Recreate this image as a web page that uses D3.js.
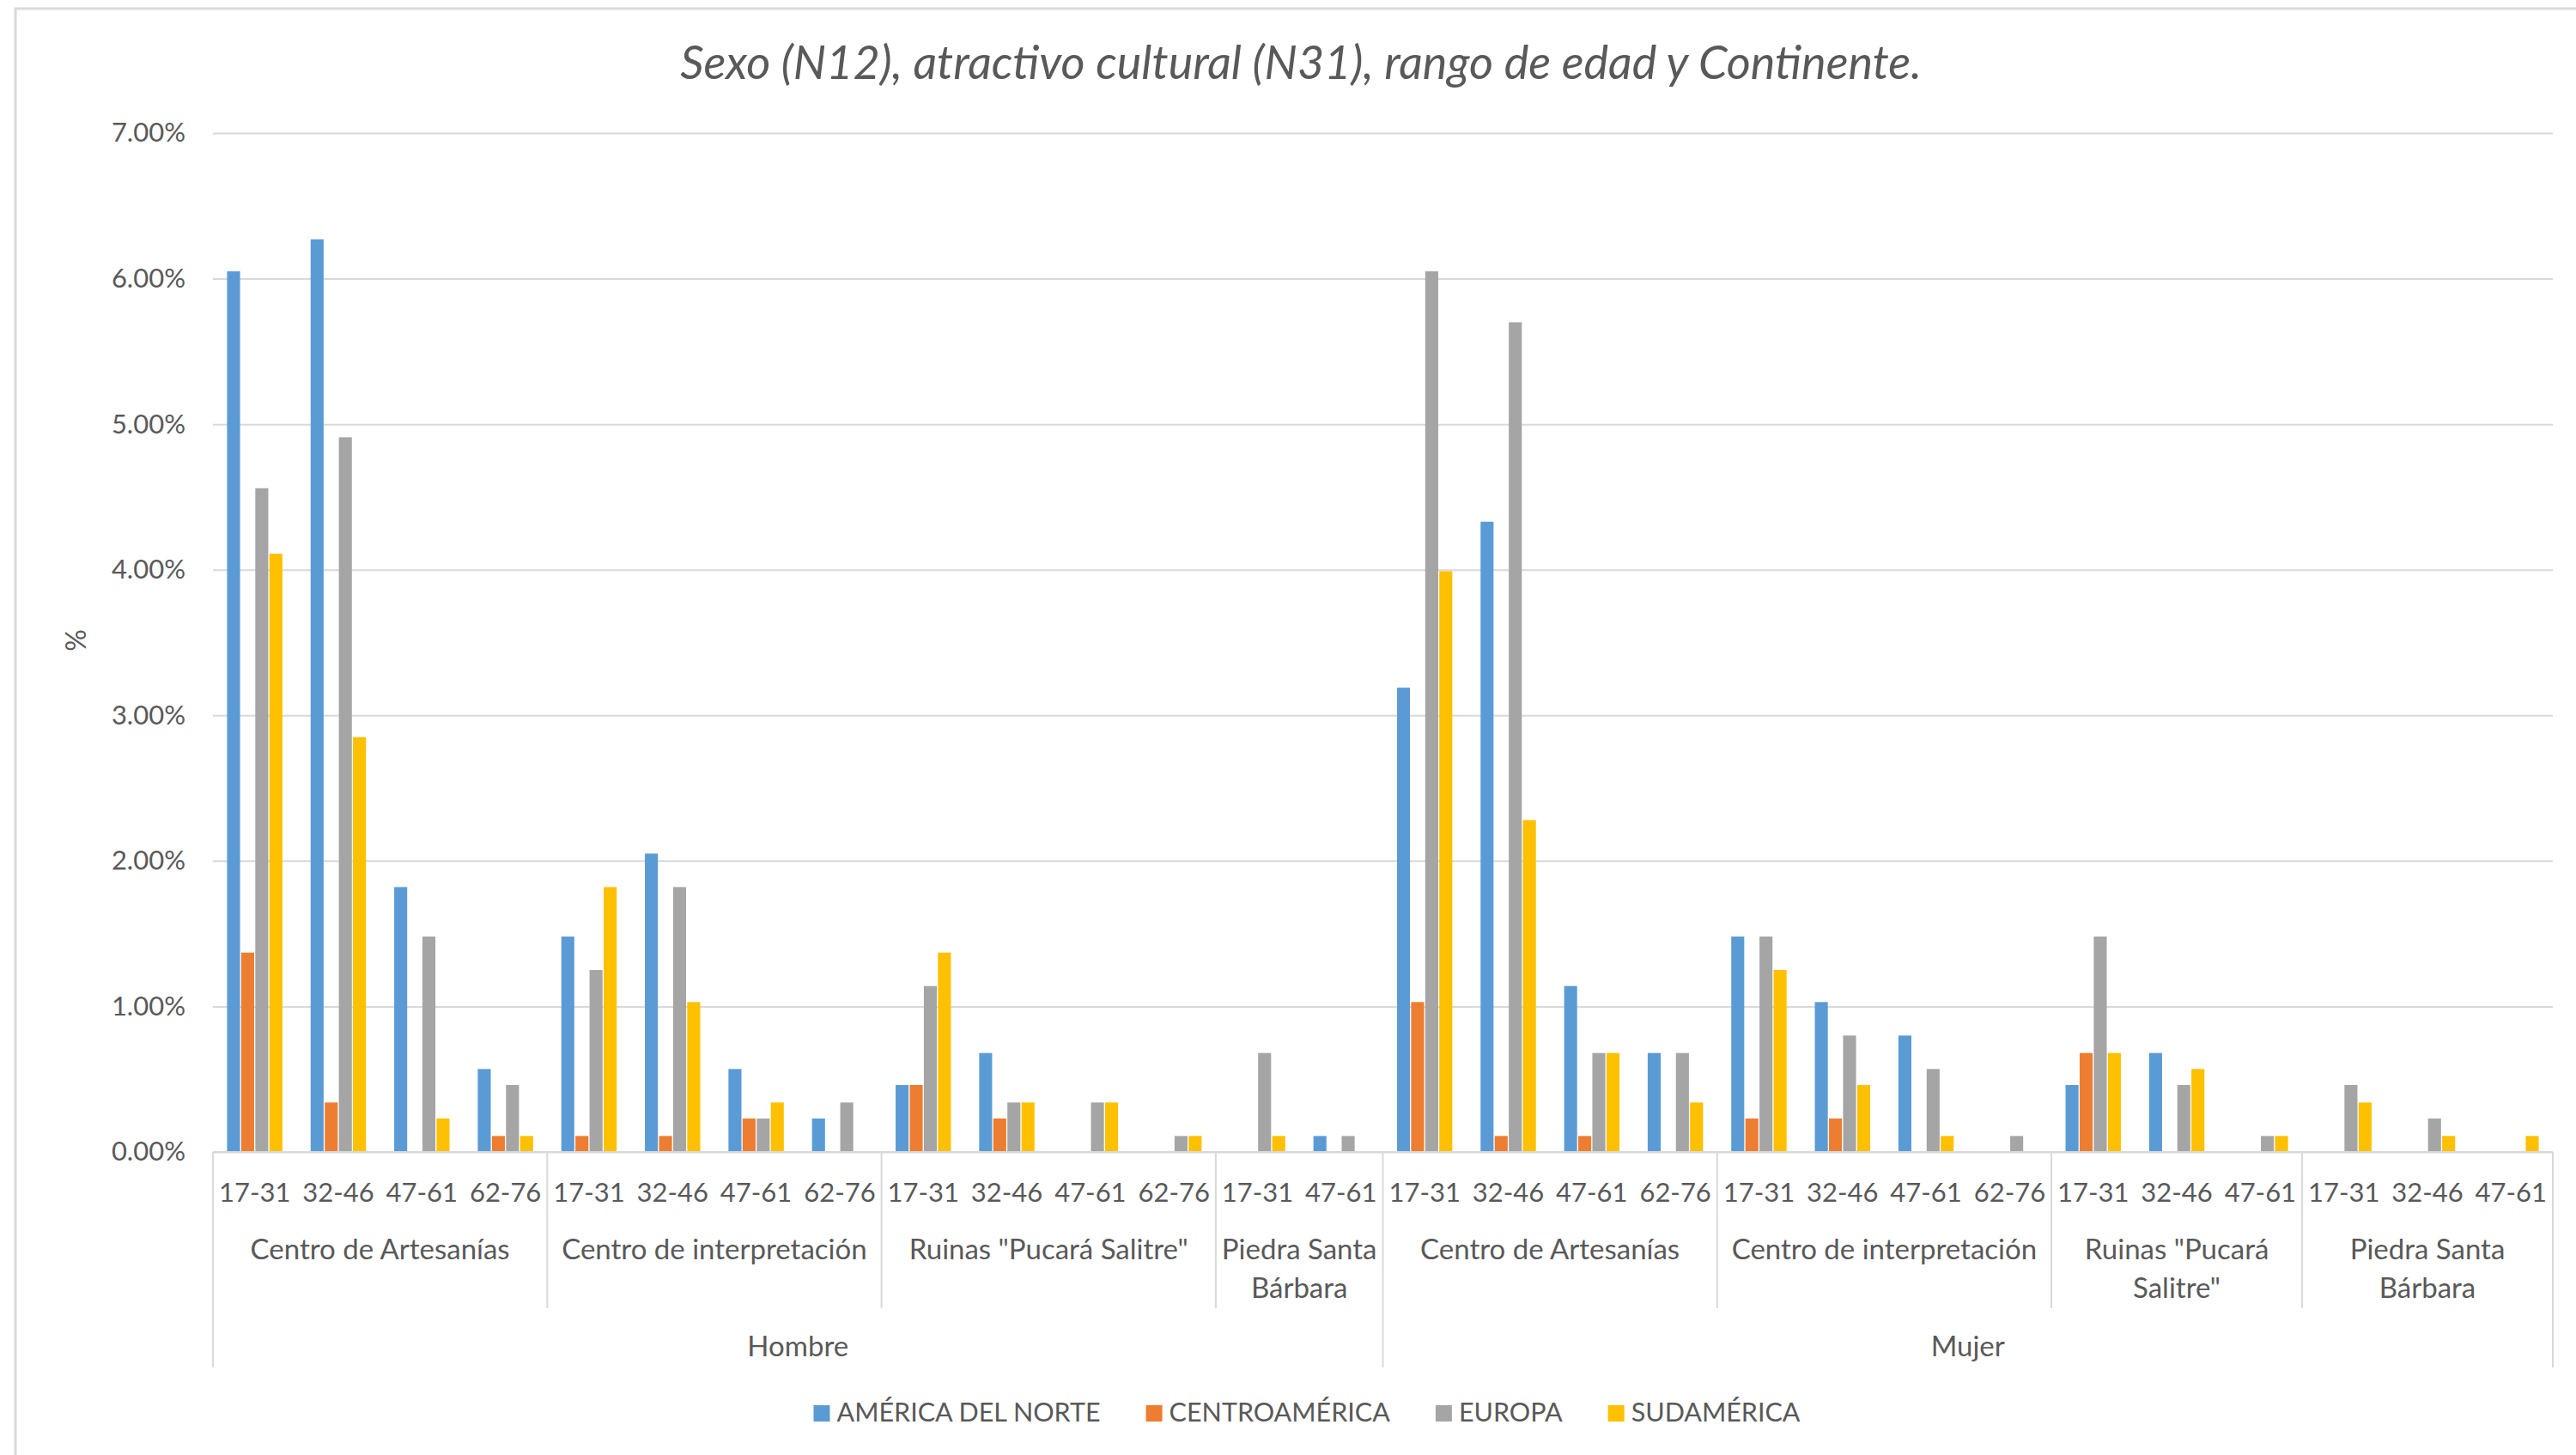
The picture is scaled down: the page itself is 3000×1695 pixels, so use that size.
<!DOCTYPE html>
<html>
<head>
<meta charset="utf-8">
<script src="https://cdn.jsdelivr.net/npm/d3@7.9.0/dist/d3.min.js"></script>
<style>
  body { margin: 0; background: #fff; }
  svg { display: block; font-family: Lato, "Open Sans", sans-serif; }
</style>
</head>
<body>
<div id="chart"></div>
<script>
const title = "Sexo (N12), atractivo cultural (N31), rango de edad y Continente.";
const yTitle = "%";
const continents = ["AMÉRICA DEL NORTE", "CENTROAMÉRICA", "EUROPA", "SUDAMÉRICA"];
const colors = ["#5b9bd5", "#ed7d31", "#a5a5a5", "#ffc000"];
const sexes = ["Hombre", "Mujer"];

// one entry per site box on the category axis, left to right
const sites = [
  { sex: "Hombre", label: ["Centro de Artesanías"], ages: ["17-31", "32-46", "47-61", "62-76"] },
  { sex: "Hombre", label: ["Centro de interpretación"], ages: ["17-31", "32-46", "47-61", "62-76"] },
  { sex: "Hombre", label: ['Ruinas "Pucará Salitre"'], ages: ["17-31", "32-46", "47-61", "62-76"] },
  { sex: "Hombre", label: ["Piedra Santa", "Bárbara"], ages: ["17-31", "47-61"] },
  { sex: "Mujer", label: ["Centro de Artesanías"], ages: ["17-31", "32-46", "47-61", "62-76"] },
  { sex: "Mujer", label: ["Centro de interpretación"], ages: ["17-31", "32-46", "47-61", "62-76"] },
  { sex: "Mujer", label: ['Ruinas "Pucará', 'Salitre"'], ages: ["17-31", "32-46", "47-61"] },
  { sex: "Mujer", label: ["Piedra Santa", "Bárbara"], ages: ["17-31", "32-46", "47-61"] },
];

// values in %, same order as the categories above
const americaNorte = [6.05, 6.27, 1.82, 0.57, 1.48, 2.05, 0.57, 0.23, 0.46, 0.68, 0, 0, 0, 0.11,
  3.19, 4.33, 1.14, 0.68, 1.48, 1.03, 0.80, 0, 0.46, 0.68, 0, 0, 0, 0];
const centroamerica = [1.37, 0.34, 0, 0.11, 0.11, 0.11, 0.23, 0, 0.46, 0.23, 0, 0, 0, 0,
  1.03, 0.11, 0.11, 0, 0.23, 0.23, 0, 0, 0.68, 0, 0, 0, 0, 0];
const europa = [4.56, 4.91, 1.48, 0.46, 1.25, 1.82, 0.23, 0.34, 1.14, 0.34, 0.34, 0.11, 0.68, 0.11,
  6.05, 5.70, 0.68, 0.68, 1.48, 0.80, 0.57, 0.11, 1.48, 0.46, 0.11, 0.46, 0.23, 0];
const sudamerica = [4.11, 2.85, 0.23, 0.11, 1.82, 1.03, 0.34, 0, 1.37, 0.34, 0.34, 0.11, 0.11, 0,
  3.99, 2.28, 0.68, 0.34, 1.25, 0.46, 0.11, 0, 0.68, 0.57, 0.11, 0.34, 0.11, 0.11];
const seriesValues = [americaNorte, centroamerica, europa, sudamerica];

const yTicks = [0, 1, 2, 3, 4, 5, 6, 7];

const width = 3000;
const height = 1695;
const plot = { left: 248, right: 2973, top: 155, bottom: 1342 };
const textColor = "#595959";
const lineColor = "#d9d9d9";

const categories = sites.flatMap((s, si) =>
  s.ages.map((age) => ({ id: `${si}|${age}`, site: si, sex: s.sex, age }))
);
categories.forEach((c, i) => {
  c.values = seriesValues.map((arr) => arr[i]);
});

const svg = d3
  .select("#chart")
  .append("svg")
  .attr("width", width)
  .attr("height", height)
  .attr("viewBox", `0 0 ${width} ${height}`);

// chart frame
svg
  .append("rect")
  .attr("x", 18)
  .attr("y", 10)
  .attr("width", width + 20)
  .attr("height", height + 20)
  .attr("fill", "#fff")
  .attr("stroke", lineColor)
  .attr("stroke-width", 3);

const x0 = d3
  .scaleBand()
  .domain(categories.map((d) => d.id))
  .range([plot.left, plot.right]);

const x1 = d3
  .scaleBand()
  .domain(d3.range(continents.length))
  .range([0, x0.bandwidth()])
  .paddingInner(0.08)
  .paddingOuter(1.0);

const y = d3.scaleLinear().domain([0, 7]).range([plot.bottom, plot.top]);

// gridlines
const grid = svg
  .append("g")
  .attr("transform", `translate(${plot.left},0)`)
  .call(d3.axisLeft(y).tickValues(yTicks).tickFormat("").tickSize(-(plot.right - plot.left)));
grid.select(".domain").remove();
grid.selectAll(".tick line").attr("stroke", lineColor).attr("stroke-width", 2);

// y labels
const yAxis = svg
  .append("g")
  .attr("transform", `translate(${plot.left},0)`)
  .call(
    d3
      .axisLeft(y)
      .tickValues(yTicks)
      .tickSize(0)
      .tickPadding(32)
      .tickFormat((d) => d.toFixed(2) + "%")
  );
yAxis.select(".domain").remove();
yAxis
  .selectAll("text")
  .attr("fill", textColor)
  .style("font-size", "31px")
  .style("font-family", "Lato, sans-serif");

svg
  .append("text")
  .attr("transform", "translate(100,746) rotate(-90)")
  .attr("text-anchor", "middle")
  .attr("fill", textColor)
  .style("font-size", "32px")
  .text(yTitle);

// bars
const groups = svg
  .append("g")
  .selectAll("g")
  .data(categories)
  .join("g")
  .attr("transform", (d) => `translate(${x0(d.id)},0)`);

groups
  .selectAll("rect")
  .data((d) => d.values.map((v, k) => ({ k, v })))
  .join("rect")
  .attr("x", (d) => x1(d.k))
  .attr("width", x1.bandwidth())
  .attr("y", (d) => y(d.v))
  .attr("height", (d) => y(0) - y(d.v))
  .attr("fill", (d) => colors[d.k]);

// category axis
const base = y(0);
const ageY = base + 58;
const siteY = base + 125;
const siteLineGap = 45;
const siteBoxBottom = base + 182;
const sexY = base + 238;
const sexBoxBottom = base + 251;

const axis = svg.append("g");
axis
  .append("line")
  .attr("x1", plot.left)
  .attr("x2", plot.right)
  .attr("y1", base)
  .attr("y2", base)
  .attr("stroke", lineColor)
  .attr("stroke-width", 2);

axis
  .selectAll(".age")
  .data(categories)
  .join("text")
  .attr("class", "age")
  .attr("x", (d) => x0(d.id) + x0.bandwidth() / 2)
  .attr("y", ageY)
  .attr("text-anchor", "middle")
  .attr("fill", textColor)
  .style("font-size", "31px")
  .text((d) => d.age);

const siteSpans = sites.map((s, si) => {
  const ids = categories.filter((c) => c.site === si).map((c) => c.id);
  return { ...s, x0: x0(ids[0]), x1: x0(ids[ids.length - 1]) + x0.bandwidth() };
});

siteSpans.forEach((s, si) => {
  const first = si === 0 || siteSpans[si - 1].sex !== s.sex;
  axis
    .append("line")
    .attr("x1", s.x0)
    .attr("x2", s.x0)
    .attr("y1", base)
    .attr("y2", first ? sexBoxBottom : siteBoxBottom)
    .attr("stroke", lineColor)
    .attr("stroke-width", 2);

  const t = axis
    .append("text")
    .attr("text-anchor", "middle")
    .attr("fill", textColor)
    .style("font-size", "33px");
  s.label.forEach((line, li) => {
    t.append("tspan")
      .attr("x", (s.x0 + s.x1) / 2)
      .attr("y", siteY + li * siteLineGap)
      .text(line);
  });
});

axis
  .append("line")
  .attr("x1", plot.right)
  .attr("x2", plot.right)
  .attr("y1", base)
  .attr("y2", sexBoxBottom)
  .attr("stroke", lineColor)
  .attr("stroke-width", 2);

sexes.forEach((sex) => {
  const spans = siteSpans.filter((s) => s.sex === sex);
  const cx = (d3.min(spans, (s) => s.x0) + d3.max(spans, (s) => s.x1)) / 2;
  axis
    .append("text")
    .attr("x", cx)
    .attr("y", sexY)
    .attr("text-anchor", "middle")
    .attr("fill", textColor)
    .style("font-size", "33px")
    .text(sex);
});

// title
svg
  .append("text")
  .attr("x", 1515)
  .attr("y", 92)
  .attr("text-anchor", "middle")
  .attr("fill", textColor)
  .style("font-size", "54px")
  .style("font-style", "italic")
  .text(title);

// legend
const legend = svg.append("g");
const items = legend
  .selectAll("g")
  .data(continents)
  .join("g");
items
  .append("rect")
  .attr("y", 1637)
  .attr("width", 19)
  .attr("height", 19)
  .attr("fill", (d, i) => colors[i]);
items
  .append("text")
  .attr("x", 27)
  .attr("y", 1656)
  .attr("fill", textColor)
  .style("font-size", "30.5px")
  .text((d) => d);

let offset = 0;
items.each(function () {
  const w = this.querySelector("text").getComputedTextLength() + 27;
  d3.select(this).attr("transform", `translate(${offset},0)`);
  offset += w + 53;
});
const total = offset - 53;
legend.attr("transform", `translate(${1522 - total / 2},0)`);
</script>
</body>
</html>
